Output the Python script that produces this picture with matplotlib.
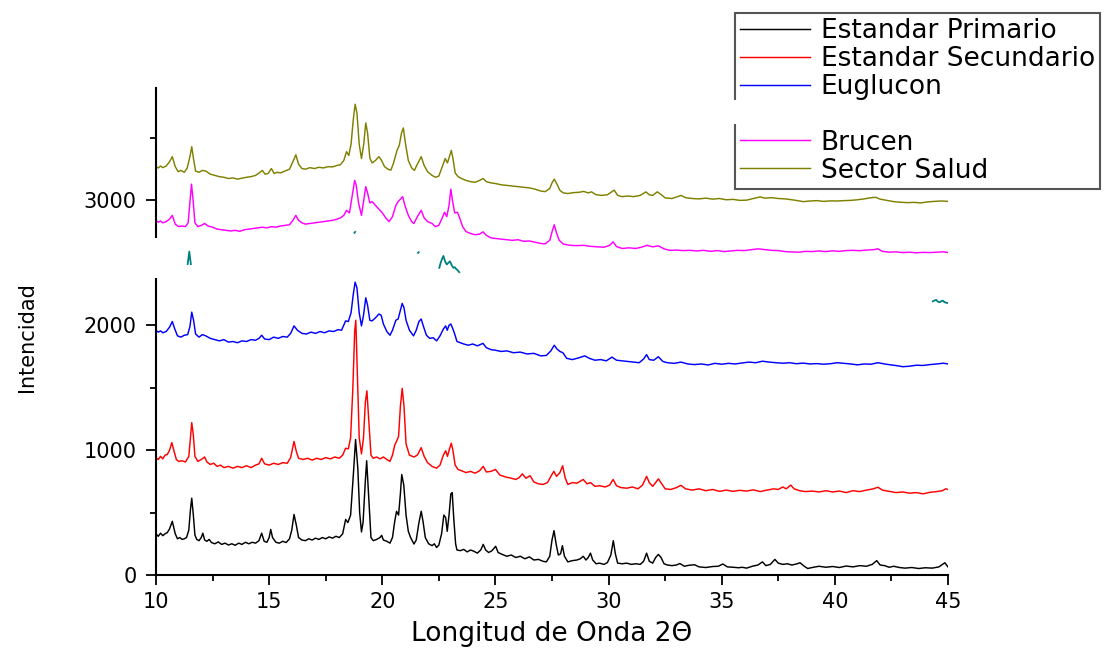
import matplotlib
matplotlib.use('Agg')
import matplotlib.pyplot as plt
from matplotlib.lines import Line2D
from matplotlib.patches import Rectangle
import numpy as np

# (2theta, intensidad)
primario = [(10.0, 330), (10.1, 310), (10.2, 335), (10.3, 315), (10.4, 330), (10.5, 340), (10.6, 370), (10.72, 430),
            (10.85, 330), (10.95, 290), (11.05, 300), (11.15, 285), (11.25, 290), (11.35, 300), (11.45, 360), (11.52, 520),
            (11.58, 615), (11.65, 480), (11.72, 320), (11.8, 285), (11.9, 275), (12.0, 300), (12.07, 335), (12.15, 280),
            (12.25, 270), (12.35, 285), (12.45, 260), (12.6, 250), (12.75, 265), (12.9, 245), (13.05, 255), (13.2, 240),
            (13.35, 250), (13.5, 238), (13.65, 255), (13.8, 245), (13.95, 262), (14.1, 250), (14.25, 262), (14.4, 255),
            (14.55, 275), (14.67, 335), (14.78, 270), (14.9, 262), (15.0, 300), (15.07, 365), (15.15, 300), (15.3, 262),
            (15.45, 255), (15.6, 270), (15.75, 260), (15.9, 290), (16.0, 360), (16.1, 485), (16.2, 400), (16.3, 300),
            (16.45, 280), (16.6, 275), (16.75, 290), (16.9, 280), (17.05, 295), (17.2, 285), (17.35, 300), (17.5, 290),
            (17.65, 305), (17.8, 295), (17.95, 310), (18.1, 300), (18.25, 330), (18.38, 445), (18.48, 420), (18.6, 480),
            (18.72, 800), (18.82, 1085), (18.92, 850), (19.0, 500), (19.08, 345), (19.15, 420), (19.25, 750), (19.31, 915),
            (19.4, 620), (19.5, 300), (19.6, 275), (19.75, 285), (19.9, 300), (19.97, 318), (20.05, 280), (20.2, 270),
            (20.34, 255), (20.45, 300), (20.55, 430), (20.63, 510), (20.72, 480), (20.8, 650), (20.86, 805), (20.95, 720),
            (21.05, 480), (21.15, 350), (21.25, 300), (21.4, 248), (21.5, 280), (21.62, 420), (21.72, 510), (21.8, 430),
            (21.9, 300), (22.05, 250), (22.2, 235), (22.3, 250), (22.4, 220), (22.5, 240), (22.62, 330), (22.72, 480),
            (22.8, 460), (22.87, 350), (22.95, 480), (23.03, 650), (23.09, 660), (23.16, 450), (23.24, 250), (23.3, 200),
            (23.45, 195), (23.6, 205), (23.75, 185), (23.9, 200), (24.05, 190), (24.2, 175), (24.35, 200), (24.46, 245),
            (24.57, 200), (24.7, 180), (24.85, 195), (25.01, 230), (25.12, 180), (25.3, 165), (25.5, 150), (25.7, 160),
            (25.9, 140), (26.1, 150), (26.3, 130), (26.5, 145), (26.7, 120), (26.9, 125), (27.1, 110), (27.25, 105),
            (27.4, 150), (27.5, 280), (27.59, 355), (27.68, 250), (27.78, 160), (27.88, 170), (27.96, 235), (28.05, 150),
            (28.2, 105), (28.4, 115), (28.6, 120), (28.75, 130), (28.88, 150), (29.0, 120), (29.1, 140), (29.2, 175),
            (29.3, 120), (29.45, 90), (29.6, 95), (29.8, 85), (29.95, 100), (30.1, 160), (30.21, 275), (30.3, 170),
            (30.4, 95), (30.6, 90), (30.8, 95), (31.0, 85), (31.2, 90), (31.4, 85), (31.55, 110), (31.68, 175),
            (31.8, 110), (31.95, 95), (32.08, 140), (32.2, 165), (32.32, 140), (32.45, 90), (32.6, 80), (32.8, 75),
            (33.0, 80), (33.15, 92), (33.35, 70), (33.55, 78), (33.8, 82), (34.0, 65), (34.3, 60), (34.6, 68),
            (34.85, 70), (35.05, 88), (35.25, 65), (35.5, 62), (35.75, 58), (35.9, 62), (36.1, 55), (36.35, 70),
            (36.6, 80), (36.8, 105), (36.95, 75), (37.15, 85), (37.35, 125), (37.5, 95), (37.7, 85), (37.9, 90),
            (38.1, 80), (38.3, 88), (38.46, 98), (38.65, 70), (38.8, 52), (39.0, 60), (39.3, 70), (39.6, 62),
            (39.9, 68), (40.2, 60), (40.5, 72), (40.8, 65), (41.1, 75), (41.4, 70), (41.65, 85), (41.85, 115),
            (42.0, 80), (42.2, 75), (42.4, 62), (42.6, 70), (42.85, 60), (43.1, 55), (43.4, 60), (43.7, 52),
            (44.0, 58), (44.3, 55), (44.6, 65), (44.86, 98), (45.0, 65)]

secundario = [(10.0, 940), (10.1, 925), (10.2, 950), (10.3, 930), (10.4, 960), (10.5, 965), (10.6, 1000), (10.7, 1060),
              (10.8, 990), (10.9, 925), (11.0, 910), (11.15, 915), (11.3, 905), (11.45, 950), (11.52, 1100), (11.58, 1220),
              (11.65, 1120), (11.72, 950), (11.85, 910), (12.0, 925), (12.15, 945), (12.25, 905), (12.4, 885), (12.55, 895),
              (12.7, 870), (12.85, 880), (13.0, 860), (13.2, 870), (13.4, 855), (13.6, 870), (13.8, 860), (14.0, 875),
              (14.2, 860), (14.4, 880), (14.55, 890), (14.67, 935), (14.8, 890), (15.0, 880), (15.2, 895), (15.4, 885),
              (15.6, 900), (15.8, 895), (15.95, 940), (16.1, 1070), (16.2, 990), (16.3, 935), (16.5, 925), (16.7, 935),
              (16.9, 920), (17.1, 935), (17.3, 925), (17.5, 940), (17.7, 930), (17.9, 945), (18.1, 935), (18.25, 960),
              (18.38, 1015), (18.5, 1010), (18.6, 1100), (18.7, 1500), (18.78, 1950), (18.83, 2040), (18.9, 1600),
              (18.98, 1100), (19.08, 970), (19.17, 1100), (19.25, 1380), (19.32, 1475), (19.4, 1250), (19.5, 960),
              (19.6, 935), (19.75, 945), (19.9, 930), (20.05, 945), (20.2, 925), (20.34, 910), (20.45, 960), (20.55, 1040),
              (20.63, 1070), (20.72, 1110), (20.8, 1350), (20.88, 1495), (20.96, 1350), (21.05, 1050), (21.2, 960),
              (21.4, 945), (21.55, 960), (21.72, 1020), (21.85, 950), (22.0, 900), (22.2, 870), (22.4, 855), (22.55, 880),
              (22.7, 960), (22.8, 995), (22.88, 950), (22.97, 1010), (23.05, 1055), (23.12, 1000), (23.22, 880),
              (23.35, 845), (23.5, 835), (23.7, 820), (23.9, 830), (24.1, 815), (24.3, 835), (24.46, 870), (24.6, 825),
              (24.8, 830), (25.0, 845), (25.2, 800), (25.45, 785), (25.7, 775), (25.9, 765), (26.05, 780), (26.19, 810),
              (26.35, 775), (26.53, 795), (26.7, 745), (26.9, 730), (27.1, 725), (27.3, 740), (27.45, 790), (27.58, 830),
              (27.7, 790), (27.85, 820), (27.97, 875), (28.08, 780), (28.2, 725), (28.4, 740), (28.6, 735), (28.88, 765),
              (29.05, 730), (29.2, 740), (29.4, 710), (29.6, 715), (29.85, 705), (30.05, 720), (30.2, 765), (30.35, 715),
              (30.55, 700), (30.8, 695), (31.05, 705), (31.3, 690), (31.5, 720), (31.68, 790), (31.8, 740), (31.95, 710),
              (32.1, 745), (32.2, 770), (32.35, 730), (32.5, 690), (32.75, 685), (33.0, 700), (33.2, 718), (33.4, 690),
              (33.7, 680), (34.0, 690), (34.3, 675), (34.6, 685), (34.9, 670), (35.2, 680), (35.5, 670), (35.8, 678),
              (36.1, 672), (36.4, 682), (36.7, 668), (37.0, 680), (37.3, 690), (37.5, 685), (37.7, 705), (37.85, 690),
              (38.05, 720), (38.2, 690), (38.45, 675), (38.7, 668), (39.0, 672), (39.3, 665), (39.6, 675), (39.9, 665),
              (40.2, 672), (40.5, 660), (40.8, 675), (41.1, 668), (41.4, 680), (41.7, 690), (41.9, 703), (42.1, 680),
              (42.4, 670), (42.7, 660), (43.0, 665), (43.3, 655), (43.6, 660), (43.9, 650), (44.2, 662), (44.5, 668),
              (44.75, 675), (44.9, 690), (45.0, 685)]

euglucon = [(10.0, 1960), (10.1, 1945), (10.2, 1955), (10.3, 1940), (10.45, 1950), (10.6, 1985), (10.72, 2030), (10.82, 1975),
            (10.95, 1915), (11.1, 1905), (11.25, 1920), (11.4, 1925), (11.5, 1990), (11.58, 2105), (11.66, 2040),
            (11.75, 1930), (11.9, 1905), (12.05, 1925), (12.2, 1915), (12.4, 1895), (12.6, 1885), (12.8, 1875),
            (13.0, 1885), (13.2, 1865), (13.4, 1870), (13.6, 1860), (13.8, 1875), (14.0, 1870), (14.2, 1885), (14.4, 1880),
            (14.55, 1895), (14.67, 1920), (14.8, 1890), (15.0, 1885), (15.2, 1905), (15.4, 1895), (15.6, 1910),
            (15.8, 1905), (15.95, 1935), (16.1, 1995), (16.25, 1960), (16.45, 1935), (16.65, 1930), (16.85, 1945),
            (17.05, 1935), (17.25, 1950), (17.45, 1940), (17.65, 1955), (17.85, 1950), (18.05, 1965), (18.2, 1960),
            (18.38, 2035), (18.5, 2030), (18.62, 2100), (18.72, 2250), (18.8, 2345), (18.88, 2300), (18.98, 2100),
            (19.08, 1995), (19.17, 2080), (19.27, 2220), (19.35, 2160), (19.45, 2040), (19.55, 2035), (19.7, 2060),
            (19.85, 2090), (19.95, 2080), (20.05, 2010), (20.2, 1950), (20.34, 1920), (20.45, 1960), (20.6, 2040),
            (20.7, 2050), (20.8, 2120), (20.88, 2175), (20.96, 2140), (21.05, 2040), (21.2, 1960), (21.38, 1915),
            (21.5, 1960), (21.62, 2030), (21.72, 2050), (21.82, 1990), (21.95, 1920), (22.1, 1895), (22.25, 1900),
            (22.4, 1875), (22.55, 1915), (22.7, 1970), (22.8, 1995), (22.87, 1960), (22.95, 2000), (23.03, 2010),
            (23.1, 1980), (23.2, 1930), (23.3, 1870), (23.45, 1860), (23.6, 1850), (23.8, 1840), (24.0, 1850),
            (24.2, 1835), (24.45, 1855), (24.6, 1820), (24.8, 1805), (25.0, 1800), (25.25, 1790), (25.5, 1795),
            (25.8, 1780), (26.1, 1785), (26.4, 1770), (26.7, 1775), (27.0, 1755), (27.25, 1758), (27.45, 1795),
            (27.6, 1840), (27.72, 1810), (27.85, 1790), (27.98, 1780), (28.15, 1735), (28.4, 1725), (28.7, 1740),
            (28.95, 1755), (29.15, 1735), (29.4, 1720), (29.65, 1725), (29.9, 1715), (30.15, 1745), (30.35, 1720),
            (30.6, 1715), (30.85, 1710), (31.1, 1705), (31.35, 1700), (31.55, 1730), (31.68, 1765), (31.8, 1725),
            (32.0, 1720), (32.2, 1748), (32.4, 1710), (32.6, 1700), (32.9, 1695), (33.2, 1705), (33.5, 1690),
            (33.8, 1685), (34.1, 1690), (34.4, 1682), (34.7, 1695), (35.0, 1688), (35.3, 1695), (35.6, 1690),
            (35.9, 1698), (36.2, 1705), (36.5, 1700), (36.8, 1712), (37.1, 1705), (37.4, 1700), (37.7, 1696),
            (38.0, 1700), (38.3, 1692), (38.6, 1697), (38.9, 1690), (39.2, 1693), (39.5, 1688), (39.8, 1692),
            (40.1, 1700), (40.4, 1695), (40.7, 1690), (41.0, 1683), (41.3, 1690), (41.6, 1688), (41.9, 1700),
            (42.2, 1690), (42.5, 1682), (42.8, 1675), (43.0, 1668), (43.3, 1672), (43.6, 1680), (43.9, 1678),
            (44.2, 1685), (44.5, 1690), (44.8, 1696), (45.0, 1690)]

brucen = [(10.0, 2840), (10.1, 2825), (10.2, 2835), (10.3, 2820), (10.45, 2830), (10.6, 2850), (10.72, 2880), (10.85, 2810),
          (11.0, 2790), (11.15, 2795), (11.3, 2790), (11.42, 2820), (11.5, 2990), (11.57, 3130), (11.64, 3000),
          (11.72, 2820), (11.85, 2790), (12.0, 2800), (12.15, 2815), (12.3, 2795), (12.5, 2785), (12.7, 2770),
          (12.9, 2765), (13.1, 2760), (13.3, 2755), (13.5, 2760), (13.7, 2752), (13.9, 2765), (14.1, 2770), (14.3, 2775),
          (14.5, 2780), (14.7, 2785), (14.9, 2780), (15.1, 2790), (15.3, 2785), (15.5, 2795), (15.7, 2800), (15.9, 2805),
          (16.05, 2840), (16.18, 2880), (16.3, 2840), (16.45, 2820), (16.6, 2810), (16.8, 2815), (17.0, 2820),
          (17.2, 2825), (17.4, 2830), (17.6, 2835), (17.8, 2840), (18.0, 2850), (18.15, 2860), (18.3, 2880),
          (18.42, 2920), (18.55, 2900), (18.68, 3050), (18.78, 3160), (18.85, 3120), (18.95, 2980), (19.08, 2880),
          (19.18, 3000), (19.27, 3110), (19.35, 3060), (19.45, 2980), (19.55, 2990), (19.7, 2960), (19.85, 2930),
          (20.0, 2900), (20.15, 2860), (20.3, 2830), (20.45, 2870), (20.6, 2960), (20.7, 2990), (20.8, 3010),
          (20.9, 3030), (21.0, 2960), (21.15, 2880), (21.3, 2830), (21.4, 2815), (21.55, 2870), (21.72, 2920),
          (21.85, 2860), (22.0, 2830), (22.2, 2815), (22.35, 2790), (22.5, 2800), (22.65, 2860), (22.75, 2905),
          (22.85, 2870), (22.95, 2960), (23.03, 3090), (23.1, 3000), (23.2, 2900), (23.32, 2905), (23.42, 2860),
          (23.55, 2790), (23.7, 2750), (23.9, 2735), (24.1, 2725), (24.3, 2730), (24.45, 2748), (24.6, 2720),
          (24.8, 2700), (25.0, 2695), (25.25, 2690), (25.5, 2685), (25.75, 2680), (26.0, 2685), (26.25, 2672),
          (26.5, 2675), (26.75, 2665), (27.0, 2655), (27.2, 2652), (27.4, 2680), (27.52, 2760), (27.6, 2805),
          (27.7, 2740), (27.82, 2680), (28.0, 2650), (28.3, 2640), (28.6, 2638), (28.9, 2640), (29.2, 2632),
          (29.5, 2628), (29.8, 2625), (30.05, 2640), (30.2, 2668), (30.35, 2630), (30.6, 2615), (30.9, 2620),
          (31.2, 2615), (31.45, 2625), (31.7, 2640), (31.95, 2628), (32.2, 2636), (32.45, 2612), (32.7, 2600),
          (33.0, 2602), (33.3, 2598), (33.6, 2600), (33.9, 2595), (34.2, 2600), (34.5, 2592), (34.8, 2598),
          (35.1, 2590), (35.4, 2595), (35.7, 2600), (36.0, 2598), (36.3, 2605), (36.6, 2612), (36.9, 2606),
          (37.2, 2600), (37.5, 2598), (37.8, 2590), (38.1, 2587), (38.4, 2585), (38.7, 2592), (39.0, 2590),
          (39.3, 2595), (39.6, 2590), (39.9, 2596), (40.2, 2592), (40.5, 2598), (40.8, 2600), (41.1, 2597),
          (41.4, 2602), (41.7, 2605), (41.9, 2612), (42.1, 2592), (42.4, 2585), (42.7, 2588), (43.0, 2582),
          (43.3, 2585), (43.6, 2580), (43.9, 2584), (44.2, 2582), (44.5, 2585), (44.8, 2588), (45.0, 2582)]

sector_salud = [(10.0, 3270), (10.1, 3260), (10.2, 3275), (10.3, 3262), (10.45, 3275), (10.6, 3310), (10.72, 3350),
                (10.85, 3270), (10.98, 3230), (11.1, 3240), (11.25, 3225), (11.38, 3260), (11.5, 3350), (11.58, 3430),
                (11.66, 3330), (11.75, 3235), (11.9, 3225), (12.05, 3240), (12.2, 3235), (12.4, 3210), (12.6, 3200),
                (12.8, 3190), (13.0, 3185), (13.2, 3175), (13.4, 3180), (13.6, 3170), (13.8, 3178), (14.0, 3185),
                (14.2, 3190), (14.4, 3200), (14.6, 3225), (14.7, 3240), (14.82, 3210), (14.95, 3215), (15.1, 3255),
                (15.22, 3215), (15.35, 3225), (15.5, 3220), (15.7, 3235), (15.9, 3250), (16.05, 3310), (16.18, 3365),
                (16.3, 3290), (16.45, 3255), (16.6, 3250), (16.8, 3262), (17.0, 3255), (17.2, 3265), (17.4, 3260),
                (17.6, 3270), (17.8, 3268), (18.0, 3280), (18.15, 3285), (18.3, 3320), (18.42, 3390), (18.52, 3360),
                (18.62, 3450), (18.72, 3650), (18.8, 3770), (18.88, 3700), (18.98, 3450), (19.08, 3335), (19.18, 3450),
                (19.27, 3620), (19.35, 3540), (19.45, 3340), (19.55, 3300), (19.7, 3320), (19.85, 3350), (19.95, 3325),
                (20.1, 3270), (20.25, 3250), (20.38, 3242), (20.5, 3300), (20.65, 3400), (20.75, 3440), (20.85, 3540),
                (20.93, 3580), (21.02, 3460), (21.15, 3320), (21.3, 3260), (21.42, 3240), (21.55, 3290), (21.72, 3350),
                (21.85, 3280), (22.0, 3230), (22.2, 3200), (22.35, 3185), (22.5, 3195), (22.65, 3270), (22.78, 3335),
                (22.88, 3300), (22.98, 3360), (23.05, 3400), (23.12, 3340), (23.22, 3220), (23.35, 3190), (23.5, 3175),
                (23.7, 3160), (23.9, 3150), (24.1, 3145), (24.3, 3160), (24.45, 3175), (24.6, 3150), (24.8, 3140),
                (25.0, 3135), (25.25, 3125), (25.5, 3120), (25.75, 3115), (26.0, 3110), (26.25, 3105), (26.5, 3100),
                (26.75, 3090), (27.0, 3075), (27.2, 3070), (27.4, 3095), (27.5, 3140), (27.6, 3170), (27.72, 3130),
                (27.85, 3080), (28.0, 3060), (28.2, 3055), (28.45, 3062), (28.7, 3065), (28.9, 3072), (29.1, 3060),
                (29.25, 3068), (29.45, 3045), (29.7, 3040), (29.95, 3045), (30.15, 3070), (30.25, 3082), (30.4, 3040),
                (30.6, 3030), (30.85, 3035), (31.1, 3030), (31.4, 3040), (31.65, 3068), (31.8, 3045), (31.95, 3040),
                (32.15, 3068), (32.3, 3050), (32.5, 3020), (32.8, 3015), (33.05, 3030), (33.2, 3040), (33.4, 3022),
                (33.7, 3015), (34.0, 3012), (34.3, 3018), (34.6, 3010), (34.9, 3015), (35.2, 3005), (35.5, 3008),
                (35.8, 3000), (36.1, 3002), (36.4, 3015), (36.7, 3028), (36.9, 3018), (37.2, 3022), (37.5, 3015),
                (37.8, 3012), (38.1, 3005), (38.35, 2998), (38.6, 2990), (38.9, 2995), (39.2, 2998), (39.5, 2992),
                (39.8, 2996), (40.1, 2995), (40.4, 2998), (40.7, 3000), (41.0, 3005), (41.3, 3012), (41.55, 3020),
                (41.8, 3025), (42.0, 3010), (42.3, 3000), (42.6, 2990), (42.9, 2985), (43.2, 2982), (43.5, 2984),
                (43.8, 2980), (44.1, 2988), (44.4, 2992), (44.7, 2995), (45.0, 2992)]

# only small pieces of the fourth pattern are left visible in the original
oculto_x = [11.40, 11.47, 11.54, np.nan, 18.77, 18.80, np.nan, 21.58, 21.61, np.nan,
            22.52, 22.58, 22.64, 22.70, 22.78, 22.85, 22.92, 22.99, 23.07, 23.14, 23.20, 23.26, 23.33, 23.40, np.nan,
            44.33, 44.40, 44.48, 44.55, 44.63, 44.70, 44.77, 44.85, 44.92, 45.0]
oculto_y = [2490, 2590, 2490, np.nan, 2740, 2748, np.nan, 2580, 2585, np.nan,
            2460, 2500, 2530, 2555, 2510, 2487, 2500, 2512, 2480, 2460, 2465, 2452, 2440, 2425, np.nan,
            2192, 2198, 2203, 2190, 2184, 2192, 2197, 2185, 2180, 2178]

series = [('Estandar Primario', primario, 'black'),
          ('Estandar Secundario', secundario, 'red'),
          ('Euglucon', euglucon, 'blue'),
          ('Brucen', brucen, 'magenta'),
          ('Sector Salud', sector_salud, '#808000')]

W, H = 1105, 648
fig = plt.figure(figsize=(W / 100, H / 100), dpi=100)
ax = fig.add_axes([156 / W, 1 - 575 / H, (948 - 156) / W, (575 - 88) / H])

lines = {}
for name, pts, col in series:
    xy = np.array(pts)
    lines[name], = ax.plot(xy[:, 0], xy[:, 1], color=col, lw=1.05)

ax.plot(oculto_x, oculto_y, color='#008080', lw=1.3)

ax.set_xlim(10, 45)
ax.set_ylim(0, 3900)
ax.set_xticks(np.arange(10, 46, 5))
ax.set_xticks(np.arange(12.5, 45, 5), minor=True)
ax.set_yticks([0, 1000, 2000, 3000])
ax.set_yticks([500, 1500, 2500, 3500], minor=True)

for s in ['top', 'right']:
    ax.spines[s].set_visible(False)
for s in ['left', 'bottom']:
    ax.spines[s].set_linewidth(1.5)

ax.tick_params(which='major', direction='out', length=7, width=1.3, labelsize=15)
ax.tick_params(which='minor', direction='out', length=4, width=1.3)
ax.tick_params(axis='y', which='major', pad=7)
ax.tick_params(axis='x', which='major', pad=5)

ax.set_xlabel('Longitud de Onda 2\u0398', fontsize=19, labelpad=7)
ax.set_ylabel('Intencidad', fontsize=15)
ax.yaxis.set_label_coords(-0.150, 0.489)

# legend, with the blank row of the hidden sample
blank = Line2D([], [], color='none')
handles = [lines['Estandar Primario'], lines['Estandar Secundario'], lines['Euglucon'], blank,
           lines['Brucen'], lines['Sector Salud']]
labels = ['Estandar Primario', 'Estandar Secundario', 'Euglucon', ' ', 'Brucen', 'Sector Salud']
leg = fig.legend(handles, labels, loc='upper left', bbox_to_anchor=(735 / W, 1 - 13 / H),
                 bbox_transform=fig.transFigure, borderaxespad=0, fontsize=19, frameon=True,
                 fancybox=False, edgecolor='#555555', framealpha=1, handlelength=2.65,
                 handletextpad=0.4, labelspacing=0.07, borderpad=0.2)
leg.get_frame().set_linewidth(1.5)

# white cover bands seen in the original (gap in the y axis and legend border)
fig.add_artist(Rectangle((145 / W, 1 - 278 / H), 22 / W, 40 / H, transform=fig.transFigure,
                         facecolor='white', edgecolor='none', zorder=10))
fig.add_artist(Rectangle((729 / W, 1 - 124 / H), 14 / W, 24 / H, transform=fig.transFigure,
                         facecolor='white', edgecolor='none', zorder=10))

plt.savefig('out.png', dpi=100)
